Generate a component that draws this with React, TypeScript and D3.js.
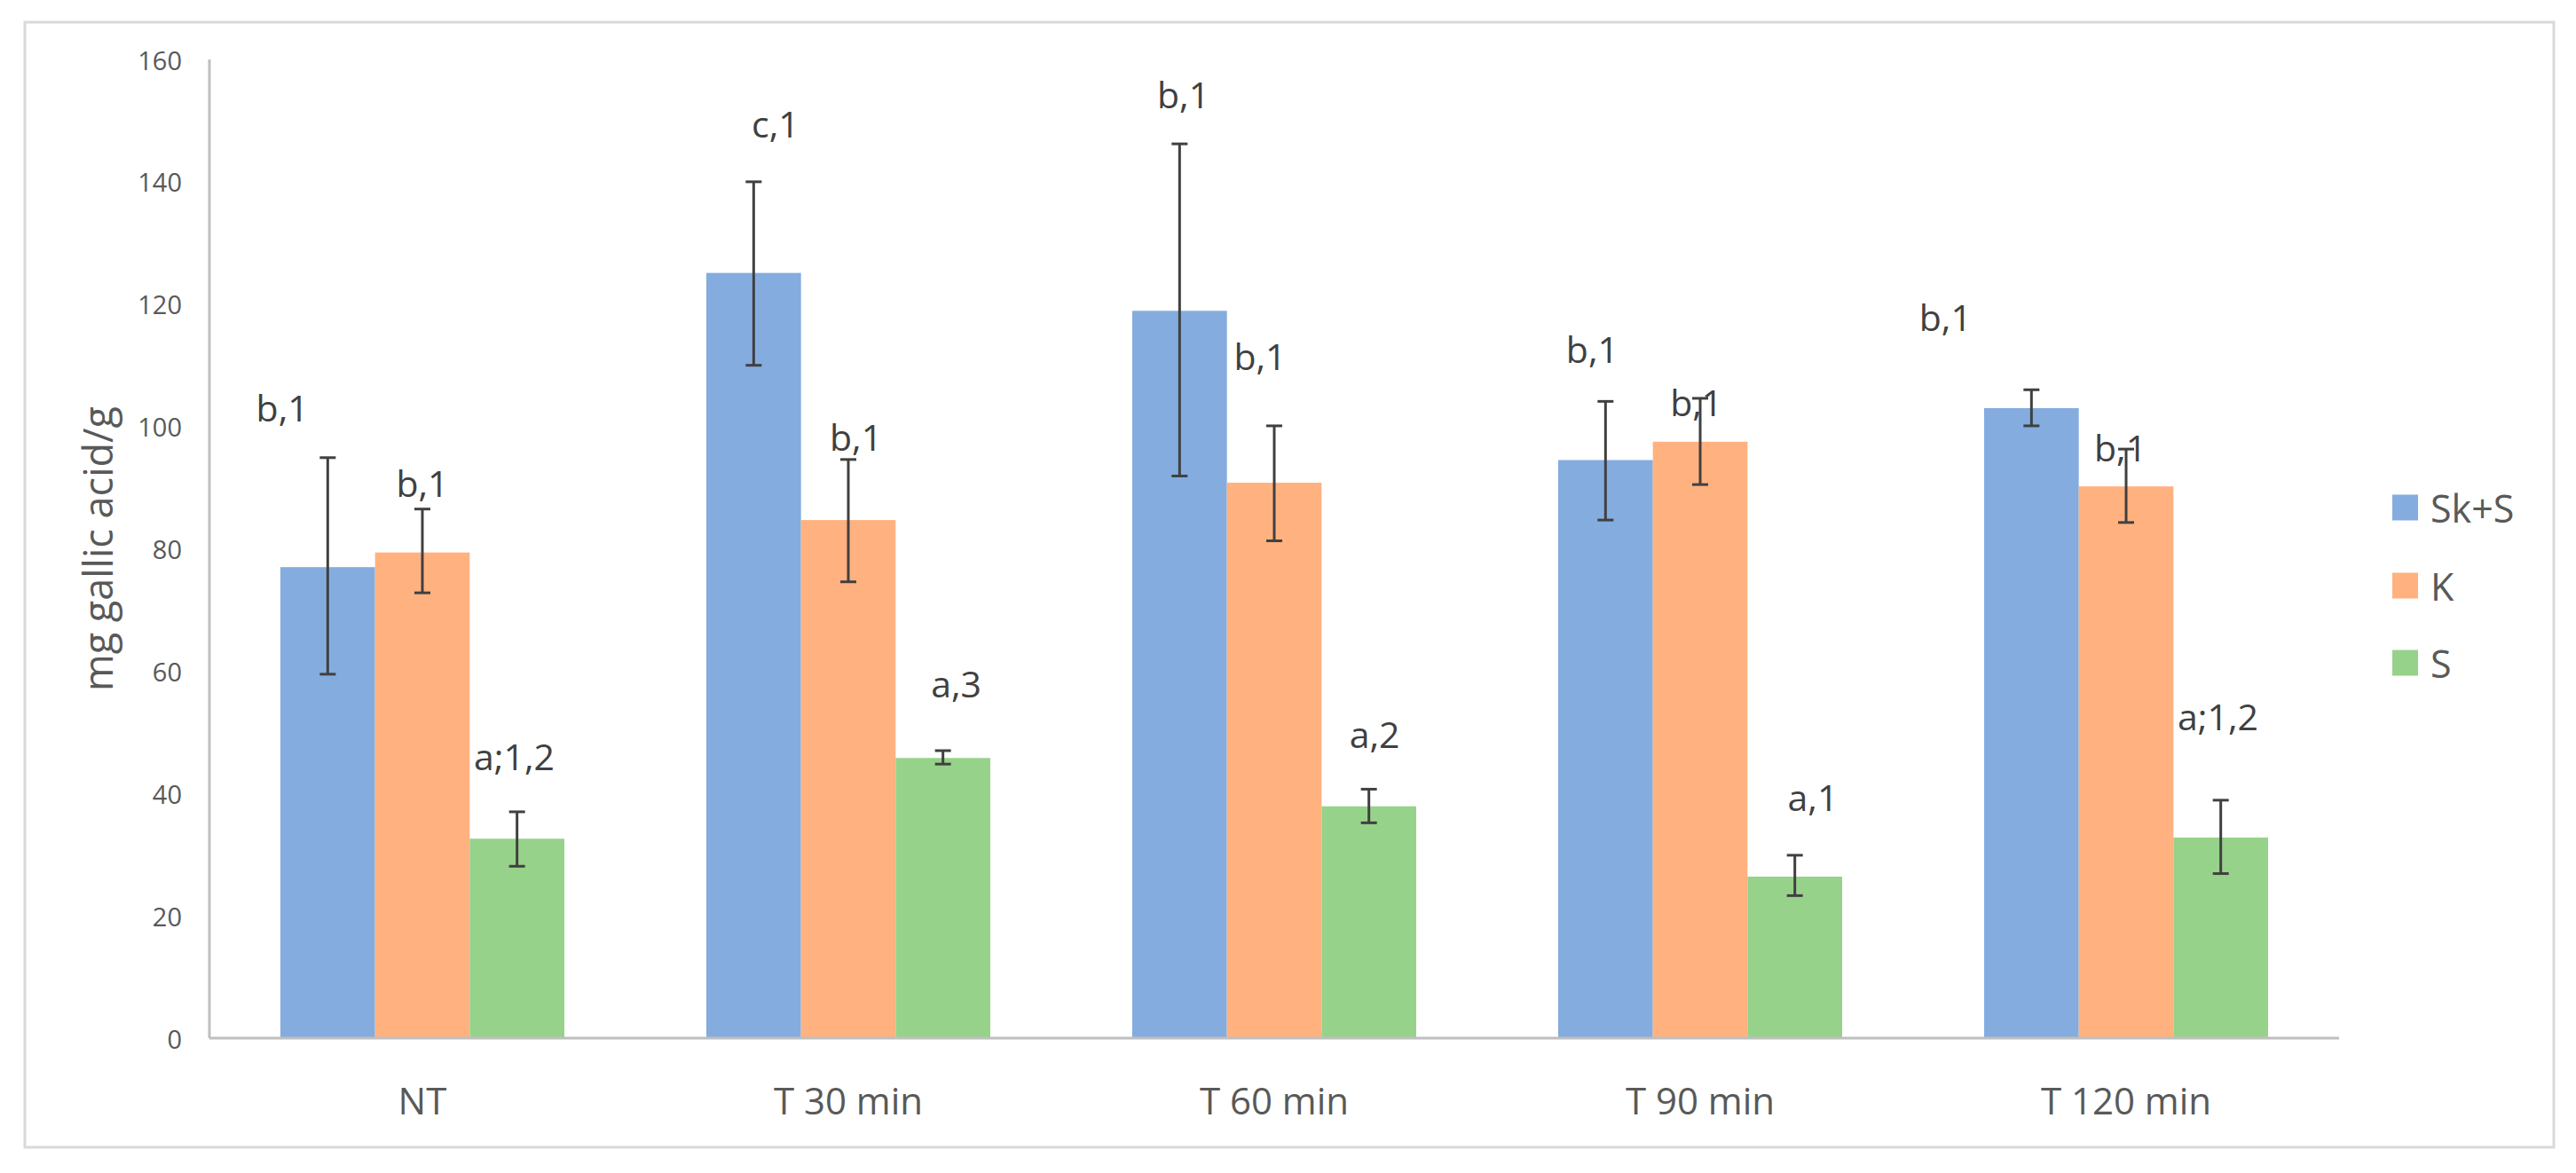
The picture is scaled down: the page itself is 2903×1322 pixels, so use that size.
import React from "react";
import * as d3 from "d3";

const categories = ["NT", "T 30 min", "T 60 min", "T 90 min", "T 120 min"];
const seriesNames = ["Sk+S", "K", "S"];

const valuesSkS = [77.0, 125.1, 118.9, 94.5, 103.0];
const valuesK = [79.4, 84.7, 90.8, 97.5, 90.2];
const valuesS = [32.6, 45.8, 37.9, 26.4, 32.8];

const errLowSkS = [59.5, 110.0, 91.9, 84.7, 100.1];
const errHighSkS = [94.9, 140.0, 146.2, 104.1, 106.0];
const errLowK = [72.8, 74.6, 81.3, 90.5, 84.3];
const errHighK = [86.5, 94.6, 100.1, 104.6, 96.3];
const errLowS = [28.1, 44.8, 35.2, 23.3, 26.9];
const errHighS = [37.0, 47.0, 40.7, 29.9, 38.9];

const labelsSkS = ["b,1", "c,1", "b,1", "b,1", "b,1"];
const labelsK = ["b,1", "b,1", "b,1", "b,1", "b,1"];
const labelsS = ["a;1,2", "a,3", "a,2", "a,1", "a;1,2"];
// label heights in data units (mg gallic acid/g)
const labelLevelSkS = [102.9, 149.3, 154.1, 112.4, 117.7];
const labelLevelK = [90.5, 98.1, 111.3, 103.7, 96.3];
const labelLevelS = [45.8, 57.7, 49.5, 39.1, 52.4];
// horizontal nudges of the labels, in bar widths
const labelNudgeSkS = [-0.48, 0.23, 0.04, -0.14, -0.91];
const labelNudgeK = [0, 0.08, -0.15, -0.04, -0.06];
const labelNudgeS = [-0.03, 0.14, 0.06, 0.19, -0.03];

const yTicks = [0, 20, 40, 60, 80, 100, 120, 140, 160];
const colors = ["#84acdf", "#ffb27f", "#97d28a"];

const W = 2903;
const H = 1322;
const FONT = "'Open Sans', 'DejaVu Sans', sans-serif";

export default function App() {
  const plotLeft = 236;
  const plotRight = 2636;
  const plotTop = 67;
  const plotBottom = 1170;

  const x = d3.scaleBand<string>().domain(categories).range([plotLeft, plotRight]).padding(0);
  const gapRatio = 1.5; // Excel gap width 150%
  const barW = x.bandwidth() / (seriesNames.length + gapRatio);
  const xs = d3
    .scaleBand<string>()
    .domain(seriesNames)
    .range([(barW * gapRatio) / 2, x.bandwidth() - (barW * gapRatio) / 2])
    .padding(0);
  const y = d3.scaleLinear().domain([0, 160]).range([plotBottom, plotTop]);

  const series = [
    { name: "Sk+S", values: valuesSkS, lo: errLowSkS, hi: errHighSkS, labels: labelsSkS, levels: labelLevelSkS, nudge: labelNudgeSkS },
    { name: "K", values: valuesK, lo: errLowK, hi: errHighK, labels: labelsK, levels: labelLevelK, nudge: labelNudgeK },
    { name: "S", values: valuesS, lo: errLowS, hi: errHighS, labels: labelsS, levels: labelLevelS, nudge: labelNudgeS },
  ];

  const capHalf = 9;
  const legendX = 2696;
  const legendY = [572, 660, 747];

  return (
    <svg
      width={W}
      height={H}
      viewBox={`0 0 ${W} ${H}`}
      style={{ position: "absolute", left: 0, top: 0, background: "#fff" }}
      fontFamily={FONT}
    >
      <rect x={0} y={0} width={W} height={H} fill="#fff" />
      <rect x={28} y={25} width={2850} height={1268} fill="#fff" stroke="#d9d9d9" strokeWidth={3} />

      {/* y tick labels */}
      {yTicks.map((t) => (
        <text key={t} x={205} y={y(t)} textAnchor="end" dominantBaseline="central" fontSize={29} fill="#595959">
          {t}
        </text>
      ))}

      {/* y axis title */}
      <text
        transform={`translate(127, ${(plotTop + plotBottom) / 2}) rotate(-90)`}
        textAnchor="middle"
        fontSize={45}
        fill="#595959"
      >
        mg gallic acid/g
      </text>

      {/* bars */}
      {series.map((s, si) =>
        categories.map((c, ci) => {
          const bx = (x(c) as number) + (xs(s.name) as number);
          return (
            <rect
              key={`b-${si}-${ci}`}
              x={bx}
              y={y(s.values[ci])}
              width={xs.bandwidth()}
              height={y(0) - y(s.values[ci])}
              fill={colors[si]}
            />
          );
        })
      )}

      {/* axes lines */}
      <line x1={plotLeft} x2={plotLeft} y1={plotTop} y2={plotBottom} stroke="#bfbfbf" strokeWidth={3} />
      <line x1={plotLeft} x2={plotRight} y1={plotBottom} y2={plotBottom} stroke="#bfbfbf" strokeWidth={3} />

      {/* error bars */}
      {series.map((s, si) =>
        categories.map((c, ci) => {
          const cx = (x(c) as number) + (xs(s.name) as number) + xs.bandwidth() / 2;
          const yl = y(s.lo[ci]);
          const yh = y(s.hi[ci]);
          return (
            <g key={`e-${si}-${ci}`} stroke="#404040" strokeWidth={3}>
              <line x1={cx} x2={cx} y1={yh} y2={yl} />
              <line x1={cx - capHalf} x2={cx + capHalf} y1={yh} y2={yh} />
              <line x1={cx - capHalf} x2={cx + capHalf} y1={yl} y2={yl} />
            </g>
          );
        })
      )}

      {/* significance labels */}
      {series.map((s, si) =>
        categories.map((c, ci) => {
          const cx = (x(c) as number) + (xs(s.name) as number) + xs.bandwidth() / 2 + s.nudge[ci] * xs.bandwidth();
          return (
            <text
              key={`l-${si}-${ci}`}
              x={cx}
              y={y(s.levels[ci]) + 14}
              textAnchor="middle"
              fontSize={41}
              fill="#404040"
            >
              {s.labels[ci]}
            </text>
          );
        })
      )}

      {/* category labels */}
      {categories.map((c) => (
        <text
          key={c}
          x={(x(c) as number) + x.bandwidth() / 2}
          y={1256}
          textAnchor="middle"
          fontSize={42}
          fill="#595959"
        >
          {c}
        </text>
      ))}

      {/* legend */}
      {seriesNames.map((n, i) => (
        <g key={n}>
          <rect x={legendX} y={legendY[i] - 14.5} width={29} height={29} fill={colors[i]} />
          <text x={legendX + 43} y={legendY[i]} dominantBaseline="central" fontSize={43} fill="#595959">
            {n}
          </text>
        </g>
      ))}
    </svg>
  );
}
